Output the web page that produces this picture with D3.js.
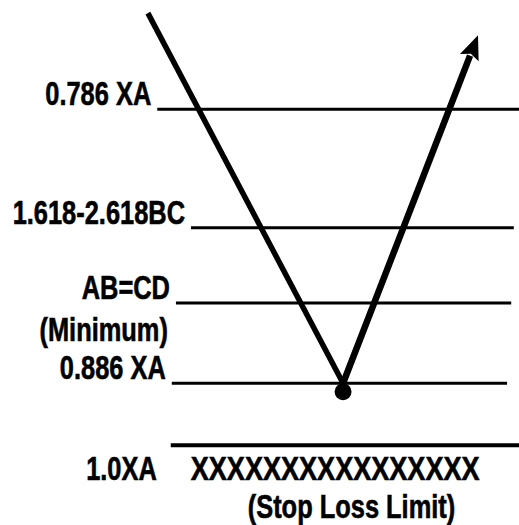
<!DOCTYPE html>
<html>
<head>
<meta charset="utf-8">
<script src="https://cdn.jsdelivr.net/npm/d3@7"></script>
<style>
  html, body { margin: 0; padding: 0; background: #fff; }
  svg { display: block; }
</style>
</head>
<body>
<div id="chart"></div>
<script>
// Retracement levels (arbitrary 0-100 price units)
const levelNames = ["0.786 XA", "1.618-2.618BC", "AB=CD", "0.886 XA", "1.0XA"];
const levelSubs = ["", "", "(Minimum)", "", ""];
const levelValues = [79.2, 56.6, 42.3, 27.0, 15.2];
const levelFrom = [30.3, 36.8, 33.9, 33.1, 32.9];
const levelTo = [100, 99.0, 98.5, 97.7, 100];

// Price swing: C -> D -> up
const pathX = [28.5, 66.1, 92.1];
const pathY = [97.5, 27.0, 93.3];

// Point D marker
const pointD = { x: 66.1, y: 25.4 };

// Notes under the stop level
const stopNotes = ["XXXXXXXXXXXXXXXX", "(Stop Loss Limit)"];

const width = 519;
const height = 525;

const svg = d3.select("#chart")
  .append("svg")
  .attr("width", width)
  .attr("height", height);

const x = d3.scaleLinear().domain([0, 100]).range([0, width]);
const y = d3.scaleLinear().domain([0, 100]).range([height, 0]);

const font = "'Liberation Sans', Arial, sans-serif";
const fontSize = 33;

// squeeze a text element horizontally so it looks like a narrow face
function narrow(sel, k) {
  sel.each(function () {
    const len = this.getComputedTextLength();
    d3.select(this)
      .attr("textLength", len * k)
      .attr("lengthAdjust", "spacingAndGlyphs");
  });
}

function label(txt, px, py, anchor, k) {
  svg.append("text")
    .attr("x", px)
    .attr("y", py)
    .attr("text-anchor", anchor)
    .attr("font-family", font)
    .attr("font-weight", "bold")
    .attr("font-size", fontSize)
    .attr("fill", "#000")
    .attr("stroke", "#000")
    .attr("stroke-width", 0.6)
    .text(txt)
    .call(narrow, k || 0.77);
}

// Horizontal level lines
const last = levelValues.length - 1;
levelValues.forEach((v, i) => {
  svg.append("line")
    .attr("x1", x(levelFrom[i]))
    .attr("x2", x(levelTo[i]))
    .attr("y1", y(v))
    .attr("y2", y(v))
    .attr("stroke", "#000")
    .attr("stroke-width", i === last ? 4 : 3);

  if (i === last) {
    // stop level is labelled under the line
    label(levelNames[i], x(levelFrom[i]) - 14, y(v) + 35, "end");
  } else {
    label(levelNames[i], x(levelFrom[i]) - 6, y(v) - 4, "end");
    if (levelSubs[i]) {
      label(levelSubs[i], x(levelFrom[i]) - 8, y(v) + 38, "end");
    }
  }
});

// Stop loss notes
const stopX = x(levelFrom[last]) + 20;
label(stopNotes[0], stopX, y(levelValues[last]) + 35, "start", 0.82);
label(stopNotes[1], stopX + 57, y(levelValues[last]) + 73, "start");

// Price swing
const pts = pathX.map((d, i) => [x(d), y(pathY[i])]);

// down leg
svg.append("line")
  .attr("x1", pts[0][0]).attr("y1", pts[0][1])
  .attr("x2", pts[1][0]).attr("y2", pts[1][1])
  .attr("stroke", "#000")
  .attr("stroke-width", 5.5);

// up leg ends at the arrow head base
const dx = pts[2][0] - pts[1][0];
const dy = pts[2][1] - pts[1][1];
const len = Math.hypot(dx, dy);
const ux = dx / len, uy = dy / len;
const headLen = 24, headHalf = 10;
const base = [pts[2][0] - ux * headLen, pts[2][1] - uy * headLen];

svg.append("line")
  .attr("x1", pts[1][0]).attr("y1", pts[1][1])
  .attr("x2", base[0] + ux * 2).attr("y2", base[1] + uy * 2)
  .attr("stroke", "#000")
  .attr("stroke-width", 6.5);

svg.append("path")
  .attr("d", d3.line()([
    pts[2],
    [base[0] - uy * headHalf, base[1] + ux * headHalf],
    [base[0] + ux * 4, base[1] + uy * 4],
    [base[0] + uy * headHalf, base[1] - ux * headHalf]
  ]) + "Z")
  .attr("fill", "#000");

// Point D
svg.append("circle")
  .attr("cx", x(pointD.x))
  .attr("cy", y(pointD.y))
  .attr("r", 8.5)
  .attr("fill", "#000");
</script>
</body>
</html>
